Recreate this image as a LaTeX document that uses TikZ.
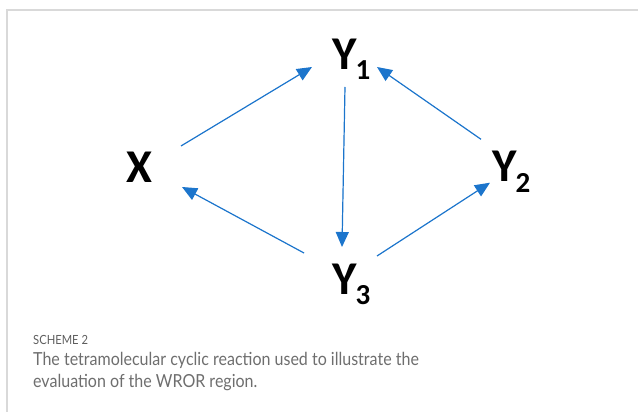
\documentclass[tikz,border=0pt]{standalone}
\usepackage{fontspec}
\setmainfont{Carlito}
\newfontfamily\capfont[FakeStretch=0.89]{Lato}
\usetikzlibrary{arrows.meta}
\definecolor{schemeblue}{RGB}{28,117,204}
\definecolor{framegray}{RGB}{217,217,217}
\definecolor{captiongray}{RGB}{110,110,110}
\newcommand{\spsub}[1]{\kern-1.5pt\raisebox{-10pt}{\fontsize{29}{30}\selectfont\bfseries#1}}

\begin{document}
\begin{tikzpicture}[
  x=1pt, y=-1pt,
  species/.style={inner sep=0pt, font=\fontsize{47}{50}\selectfont\bfseries},
  caption/.style={inner sep=0pt, anchor=base west, text=captiongray, font=\capfont\fontsize{18}{22}\selectfont},
  arrow/.style={-{Triangle[length=15pt,width=13pt]}, draw=schemeblue, fill=schemeblue, line width=1.2pt}
]
\useasboundingbox (0,0) rectangle (638,412);

% frame
\draw[framegray, line width=1.6pt] (7,412) -- (7,10) -- (638,10);

% species
\node[species, anchor=base] (x) at (139,182.7) {X};
\node[species, anchor=base west] (y1) at (332.5,70) {Y\spsub{1}};
\node[species, anchor=base west] (y2) at (492.5,182) {Y\spsub{2}};
\node[species, anchor=base west] (y3) at (332.5,294) {Y\spsub{3}};

% reactions
\draw[arrow] ([shift={(42,-36.7)}]x.base) -- ([shift={(-20.5,-3)}]y1.base west);
\draw[arrow] ([shift={(-11.5,-42.7)}]y2.base west) -- ([shift={(44.5,-3)}]y1.base west);
\draw[arrow] ([shift={(12.5,17)}]y1.base west) -- ([shift={(9.5,-47)}]y3.base west);
\draw[arrow] ([shift={(-28.5,-41)}]y3.base west) -- ([shift={(43,4.3)}]x.base);
\draw[arrow] ([shift={(44.5,-38)}]y3.base west) -- ([shift={(-2.5,0.7)}]y2.base west);

% caption
\node[caption, font=\capfont\fontsize{12.6}{14}\selectfont, text=captiongray!85!black] (scheme) at (33,344.3) {SCHEME 2};
\node[caption] (capline1) at (33,365) {The tetramolecular cyclic reaction used to illustrate the};
\node[caption] (capline2) at (33,387.7) {evaluation of the WROR region.};

\end{tikzpicture}
\end{document}
